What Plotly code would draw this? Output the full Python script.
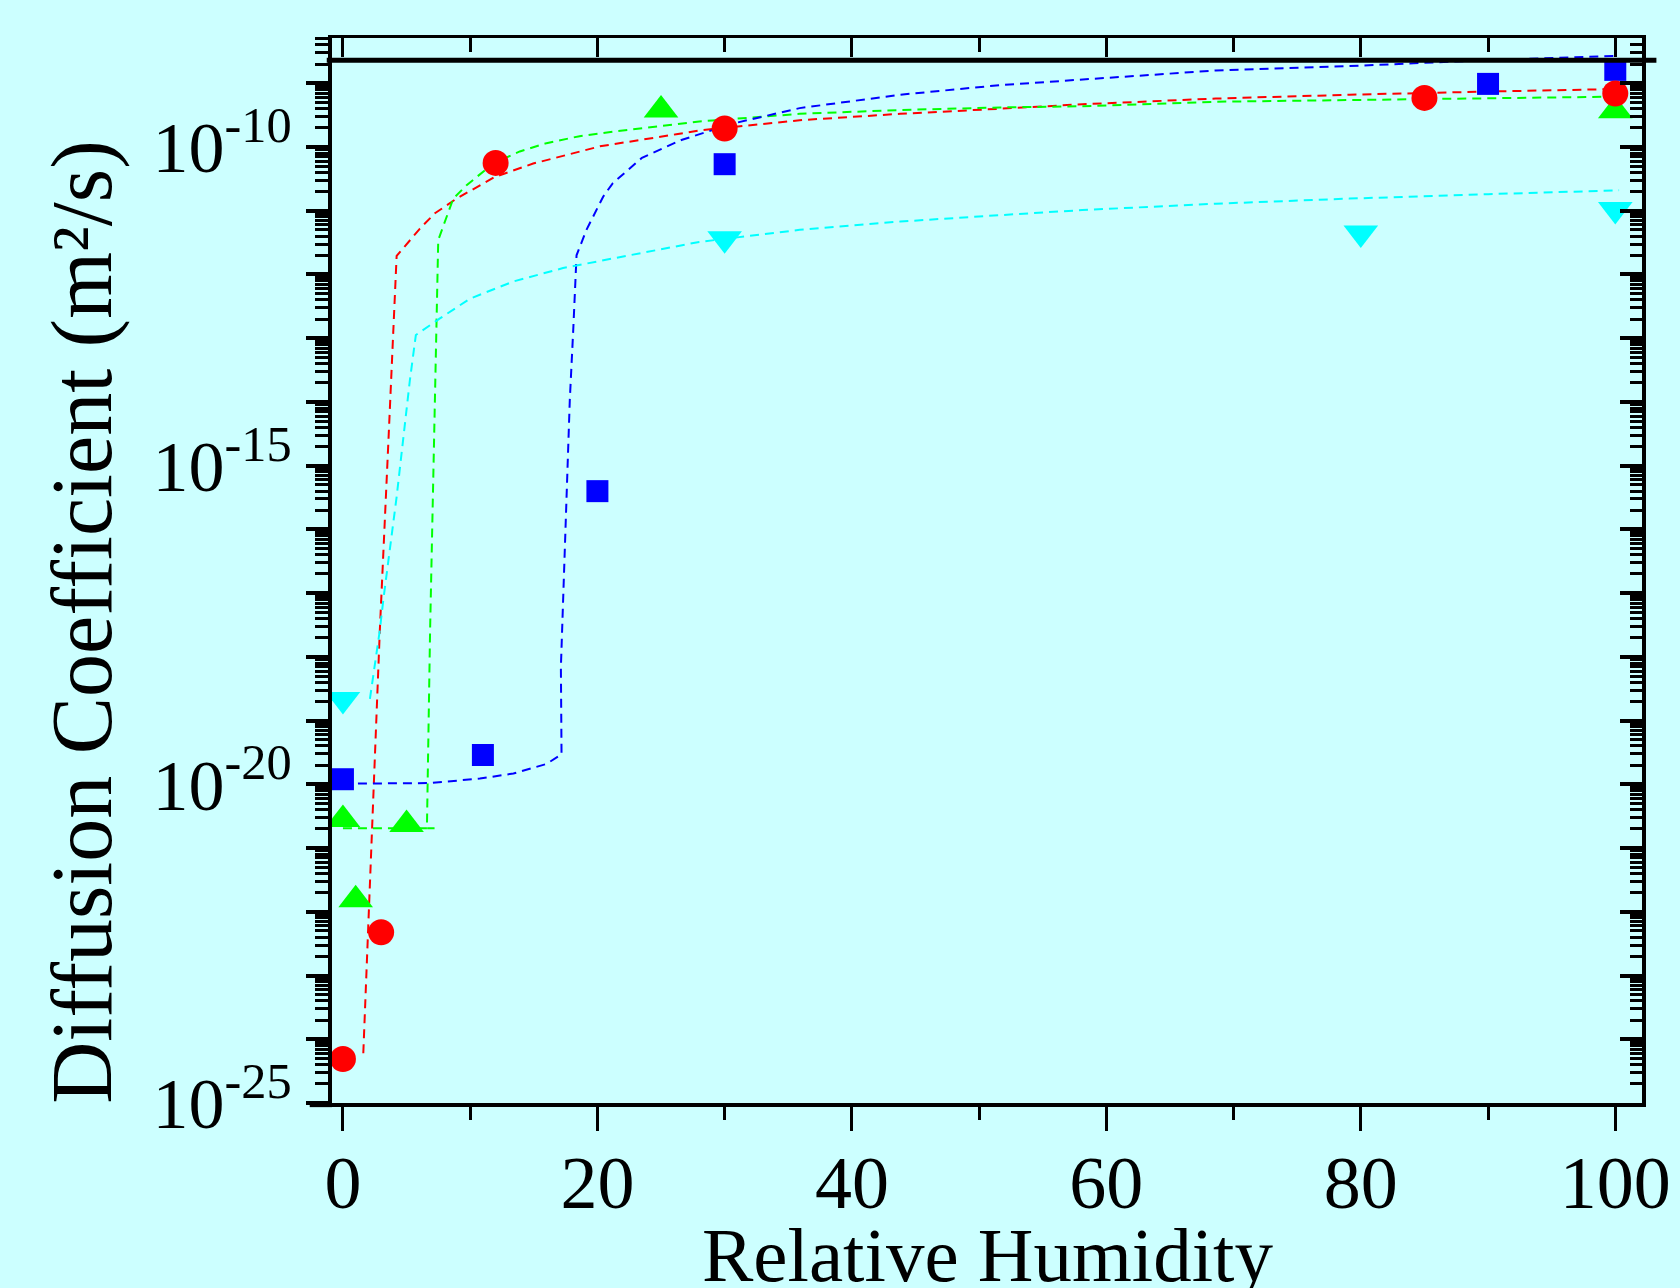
import plotly.graph_objects as go

# ---------------- data (log10 of diffusion coefficient, m^2/s) ----------------
rh_red = [0, 3, 12, 30, 85, 100]
logD_red = [-24.31, -22.32, -10.25, -9.71, -9.23, -9.16]

rh_blue = [0, 11, 20, 30, 90, 100]
logD_blue = [-19.92, -19.54, -15.40, -10.27, -9.01, -8.79]

rh_green = [0, 1, 5, 25, 100]
logD_green = [-20.55, -21.81, -20.63, -9.42, -9.43]

rh_cyan = [0, 30, 80, 100]
logD_cyan = [-18.67, -11.44, -11.35, -10.98]

# fitted (dashed) curves
fit_red_rh = [1.6, 2.9, 3.6, 4.22, 6.05, 7.23, 8.93, 11.94, 14.95, 20.2, 26.2, 28.0,
              35.9, 43.8, 51.6, 58.1, 68.6, 79.1, 90.0, 100.3]
fit_red_logD = [-24.22, -17.58, -14.5, -11.71, -11.28, -11.04, -10.81, -10.47, -10.26,
                -9.99, -9.80, -9.74, -9.58, -9.48, -9.40, -9.33, -9.24, -9.18, -9.13, -9.09]

fit_green_rh = [0, 7.2, 6.6, 6.85, 7.4, 7.49, 8.67, 9.72, 11.8, 13.9, 16.0, 18.6, 21.2,
                26.2, 28.0, 35.9, 43.8, 51.6, 58.1, 68.6, 79.1, 90.0, 100.3]
fit_green_logD = [-20.69, -20.69, -20.69, -17.58, -12.72, -11.46, -10.81, -10.60, -10.26,
                  -10.07, -9.94, -9.83, -9.76, -9.64, -9.60, -9.48, -9.42, -9.38, -9.36,
                  -9.29, -9.26, -9.24, -9.21]

fit_blue_rh = [0, 6.83, 10.76, 13.4, 16.0, 17.18, 17.13, 17.3, 17.57, 17.83, 18.1, 18.3,
               18.36, 19.14, 20.45, 21.2, 23.5, 26.6, 30.7, 35.9, 43.8, 51.6, 58.1, 68.6,
               79.1, 90.9, 100.3]
fit_blue_logD = [-19.99, -19.98, -19.91, -19.83, -19.68, -19.53, -18.16, -17.11, -15.80,
                 -13.97, -12.87, -11.83, -11.70, -11.30, -10.78, -10.57, -10.17, -9.89,
                 -9.63, -9.39, -9.18, -9.03, -8.94, -8.80, -8.73, -8.63, -8.57]

fit_cyan_rh = [2.12, 2.9, 3.17, 4.22, 5.26, 5.73, 7.62, 9.98, 13.4, 17.3, 22.5, 28.0, 35.9,
               43.8, 51.6, 58.1, 68.6, 79.1, 90.0, 100.3]
fit_cyan_logD = [-18.66, -17.58, -17.11, -15.49, -13.66, -12.95, -12.69, -12.38, -12.11,
                 -11.90, -11.70, -11.49, -11.30, -11.17, -11.07, -10.99, -10.89, -10.81,
                 -10.74, -10.68]

x_ticks = [0, 20, 40, 60, 80, 100]
y_decades = list(range(-25, -8))
y_labelled = [-25, -20, -15, -10]

FONT = "Liberation Serif"
BG = "#CCFFFF"


def tenpow(vals):
    return [10 ** v for v in vals]


fig = go.Figure()

dash = "9px,6px"
for xs, ys, col in [(fit_red_rh, fit_red_logD, "#FF0000"),
                    (fit_green_rh, fit_green_logD, "#00FF00"),
                    (fit_blue_rh, fit_blue_logD, "#0000FF"),
                    (fit_cyan_rh, fit_cyan_logD, "#00FFFF")]:
    fig.add_trace(go.Scatter(x=xs, y=tenpow(ys), mode="lines",
                             line=dict(color=col, width=2, dash=dash),
                             showlegend=False, hoverinfo="skip"))

for xs, ys, col, sym, size in [(rh_cyan, logD_cyan, "#00FFFF", "triangle-down", 30),
                               (rh_blue, logD_blue, "#0000FF", "square", 22),
                               (rh_green, logD_green, "#00FF00", "triangle-up", 30),
                               (rh_red, logD_red, "#FF0000", "circle", 26)]:
    fig.add_trace(go.Scatter(x=xs, y=tenpow(ys), mode="markers",
                             marker=dict(color=col, symbol=sym, size=size, line=dict(width=0)),
                             showlegend=False))

# empty traces so that the extra (mirrored) axes get drawn
fig.add_trace(go.Scatter(x=[], y=[], xaxis="x2", yaxis="y2", showlegend=False))
fig.add_trace(go.Scatter(x=[], y=[], xaxis="x", yaxis="y3", showlegend=False))

xr = [-0.86, 102.1]
yr = [-25.0, -8.29]

common_log = dict(type="log", range=yr, showgrid=False, zeroline=False, showline=True,
                  linewidth=4, linecolor="black", tickcolor="black", tickmode="array")

fig.update_layout(
    width=1680, height=1288,
    margin=dict(l=332, r=38, t=38, b=185, autoexpand=False),
    paper_bgcolor=BG, plot_bgcolor=BG,
    font=dict(family=FONT, color="black"),
    showlegend=False,
    xaxis=dict(range=xr, showgrid=False, zeroline=False, showline=True, linewidth=4,
               linecolor="black", ticks="outside", ticklen=24, tickwidth=3,
               tickcolor="black", tickmode="array", tickvals=x_ticks,
               ticklabelstandoff=-12,
               tickfont=dict(family=FONT, size=74),
               minor=dict(dtick=10, tick0=0, ticks="outside", ticklen=13, tickwidth=3,
                          tickcolor="black", showgrid=False)),
    xaxis2=dict(range=xr, overlaying="x", side="top", anchor="y", showgrid=False,
                zeroline=False, showline=True, linewidth=3, linecolor="black",
                ticks="inside", ticklen=19, tickwidth=3, tickcolor="black",
                tickmode="array", tickvals=x_ticks, showticklabels=False,
                minor=dict(dtick=10, tick0=0, ticks="inside", ticklen=14, tickwidth=3,
                           tickcolor="black", showgrid=False)),
    # labelled decades
    yaxis=dict(**common_log, ticks="outside", ticklen=22, tickwidth=4,
               tickvals=[10 ** d for d in y_labelled],
               ticktext=["10<sup>%d</sup>" % d for d in y_labelled],
               tickfont=dict(family=FONT, size=72)),
    # right axis, ticks pointing inward
    yaxis2=dict(**common_log, overlaying="y", side="right", anchor="x",
                ticks="inside", ticklen=22, tickwidth=4,
                tickvals=[10 ** d for d in y_decades], showticklabels=False,
                minor=dict(dtick="D1", ticks="inside", ticklen=12, tickwidth=3,
                           tickcolor="black", showgrid=False)),
    # left axis: every decade plus minor ticks
    yaxis3=dict(**common_log, overlaying="y", side="left", anchor="x",
                ticks="outside", ticklen=22, tickwidth=4,
                tickvals=[10 ** d for d in y_decades], showticklabels=False,
                minor=dict(dtick="D1", ticks="outside", ticklen=13, tickwidth=3,
                           tickcolor="black", showgrid=False)),
    shapes=[
        dict(type="line", xref="paper", yref="paper", x0=-0.004, x1=1.011, y0=0.979,
             y1=0.979, line=dict(color="black", width=5)),
        dict(type="line", xref="paper", yref="paper", x0=-0.017, x1=0.0, y0=-0.002,
             y1=-0.002, line=dict(color="black", width=4)),
    ],
    annotations=[
        dict(text="Diffusion Coefficient (m²/s)", xref="paper", yref="paper",
             x=-0.191, y=0.4516, textangle=-90, showarrow=False,
             xanchor="center", yanchor="middle", font=dict(family=FONT, size=86)),
        dict(text="Relative Humidity", xref="paper", yref="paper",
             x=0.5, y=-0.1427, showarrow=False, xanchor="center", yanchor="middle",
             font=dict(family=FONT, size=77)),
    ],
)

fig.write_html(
    "out.html",
    config={"displayModeBar": False},
    post_script="document.body.style.margin='0';"
                "document.body.style.background='%s';"
                "document.body.style.overflow='hidden';" % BG,
)
